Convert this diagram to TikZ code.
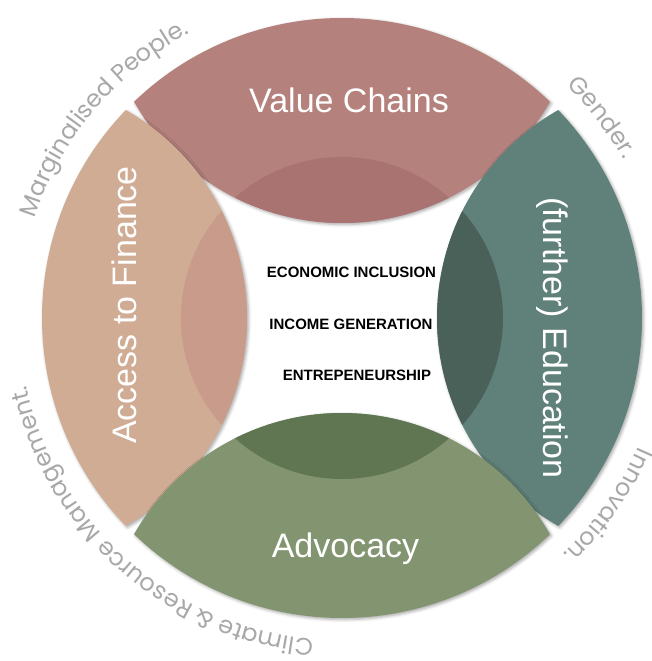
\documentclass[tikz,border=0pt]{standalone}
\usepackage{fontspec}
\setmainfont{Liberation Sans}
\newfontfamily\rimfont{Poppins}
\usetikzlibrary{decorations.text}
\usetikzlibrary{shadows.blur}
\definecolor{vcbase}{HTML}{B5817D}
\definecolor{vcdeep}{HTML}{A87370}
\definecolor{afbase}{HTML}{D0AC94}
\definecolor{afdeep}{HTML}{C89B8A}
\definecolor{edbase}{HTML}{60807A}
\definecolor{eddeep}{HTML}{4A615A}
\definecolor{adbase}{HTML}{839570}
\definecolor{addeep}{HTML}{607652}
\definecolor{rimgray}{HTML}{A8A8A8}
\def\rimR{300}
\def\lensR{239}
\def\halfarc{43.88}
\def\lensarc{60.47}
\def\coreR{161}
\def\rimT{323}
\newcommand\lenspath[1]{(#1-\halfarc:\rimR) arc[start angle=#1-\halfarc, delta angle=2*\halfarc, radius=\rimR] arc[start angle=#1+180-\lensarc, delta angle=2*\lensarc, radius=\lensR] -- cycle}

\begin{document}
\begin{tikzpicture}[
    x=1pt, y=1pt,
    segtext/.style={
      text=white, anchor=base,
      font=\fontsize{34}{34}\selectfont
    },
    hubtext/.style={
      anchor=base,
      font=\bfseries\fontsize{15}{15}\selectfont
    },
    rimtext/.style={
      decorate,
      decoration={text along path, text align=left, text color=rimgray,
        text={|\rimfont\fontsize{24}{24}\selectfont|#1}}
    }
  ]
    \useasboundingbox (-342,-343) rectangle (310,318);

    % four lens segments with their darker core
    \foreach \ang/\base/\deep in {90/vcbase/vcdeep, 180/afbase/afdeep, 0/edbase/eddeep, 270/adbase/addeep}{
      \fill[\base, blur shadow={shadow xshift=1.5pt, shadow yshift=-1.5pt, shadow blur radius=3pt, shadow opacity=35}] \lenspath{\ang};
      \begin{scope}
        \clip \lenspath{\ang};
        \fill[\deep] (0,0) circle (\coreR);
      \end{scope}
    }

    \node[segtext]            (vc) at (7,205)    {Value Chains};
    \node[segtext, rotate=90]  (af) at (-205,13) {Access to Finance};
    \node[segtext, rotate=-90] (ed) at (201,-20) {(further) Education};
    \node[segtext]            (ad) at (3.5,-239) {Advocacy};

    \node[hubtext] (inclusion) at (9.5,40) {ECONOMIC INCLUSION};
    \node[hubtext] (income)    at (9,-12)  {INCOME GENERATION};
    \node[hubtext] (entre)     at (15,-63) {ENTREPENEURSHIP};

    % texts round the rim
    \path[rimtext={Marginalised People.}] (162:\rimT) arc[start angle=162, end angle=80, radius=\rimT];
    \path[rimtext={Gender.}] (46:\rimT) arc[start angle=46, end angle=0, radius=\rimT];
    \path[rimtext={Innovation.}] (-23.5:\rimT) arc[start angle=-23.5, end angle=-80, radius=\rimT];
    \path[rimtext={Climate {\&} Resource Management.}] (265:\rimT) arc[start angle=265, end angle=170, radius=\rimT];
  \end{tikzpicture}
\end{document}
